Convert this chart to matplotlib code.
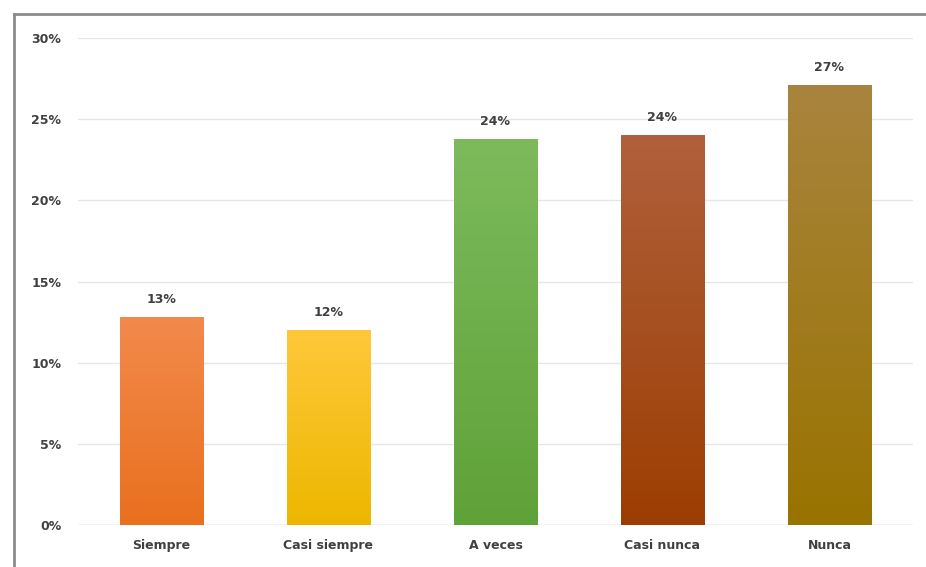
import numpy as np
import matplotlib
matplotlib.use("Agg")
import matplotlib.pyplot as plt
from matplotlib.colors import LinearSegmentedColormap
from matplotlib.lines import Line2D

categories = ["Siempre", "Casi siempre", "A veces", "Casi nunca", "Nunca"]
values = [12.8, 12.0, 23.8, 24.0, 27.1]
top_colors = ["#F28A4C", "#FFC83A", "#7DBA5C", "#B0603C", "#A9843E"]
bottom_colors = ["#E9701E", "#EDB700", "#5FA238", "#9C3E02", "#997300"]
yticks = [0, 5, 10, 15, 20, 25, 30]
ytick_labels = ["0%", "5%", "10%", "15%", "20%", "25%", "30%"]

fig = plt.figure(figsize=(9.26, 5.67), dpi=100)
ax = fig.add_axes([0.0842, 0.074, 0.9017, 0.859])

x = np.arange(len(categories))
bars = ax.bar(x, values, width=0.5, color="none", zorder=3)
grad = np.linspace(0, 1, 256).reshape(-1, 1)
for b, tc, bc in zip(bars, top_colors, bottom_colors):
    cmap = LinearSegmentedColormap.from_list("g", [bc, tc])
    x0, y0 = b.get_x(), b.get_y()
    w, h = b.get_width(), b.get_height()
    im = ax.imshow(grad, extent=[x0, x0 + w, y0, y0 + h], origin="lower",
                   cmap=cmap, aspect="auto", zorder=3)
    im.set_clip_path(b)

for xi, v in zip(x, values):
    ax.annotate(f"{round(v)}%", (xi, v), xytext=(0, 8), textcoords="offset points",
                ha="center", va="bottom", fontsize=9, color="#404040",
                fontweight="bold")

ax.set_xlim(-0.5, 4.5)
ax.set_ylim(0, 30)
ax.set_yticks(yticks)
ax.set_yticklabels(ytick_labels)
ax.set_xticks(x)
ax.set_xticklabels(categories)
ax.tick_params(axis="y", length=0, pad=12, labelsize=9, labelcolor="#404040")
ax.tick_params(axis="x", length=0, pad=10, labelsize=9, labelcolor="#404040")
for lab in ax.get_xticklabels() + ax.get_yticklabels():
    lab.set_fontweight("bold")
ax.grid(axis="y", color="#E6E6E6", linewidth=1, zorder=0)
ax.set_axisbelow(True)
for s in ax.spines.values():
    s.set_visible(False)
ax.axhline(0, color="#DADADA", linewidth=1, zorder=2)

# outer frame (top and left visible)
fig.add_artist(Line2D([14 / 926, 1.0], [1 - 14 / 567, 1 - 14 / 567],
                      transform=fig.transFigure, color="#8C8C8C", linewidth=2))
fig.add_artist(Line2D([14 / 926, 14 / 926], [0.0, 1 - 14 / 567],
                      transform=fig.transFigure, color="#8C8C8C", linewidth=2))

fig.savefig("out.png", dpi=100)
